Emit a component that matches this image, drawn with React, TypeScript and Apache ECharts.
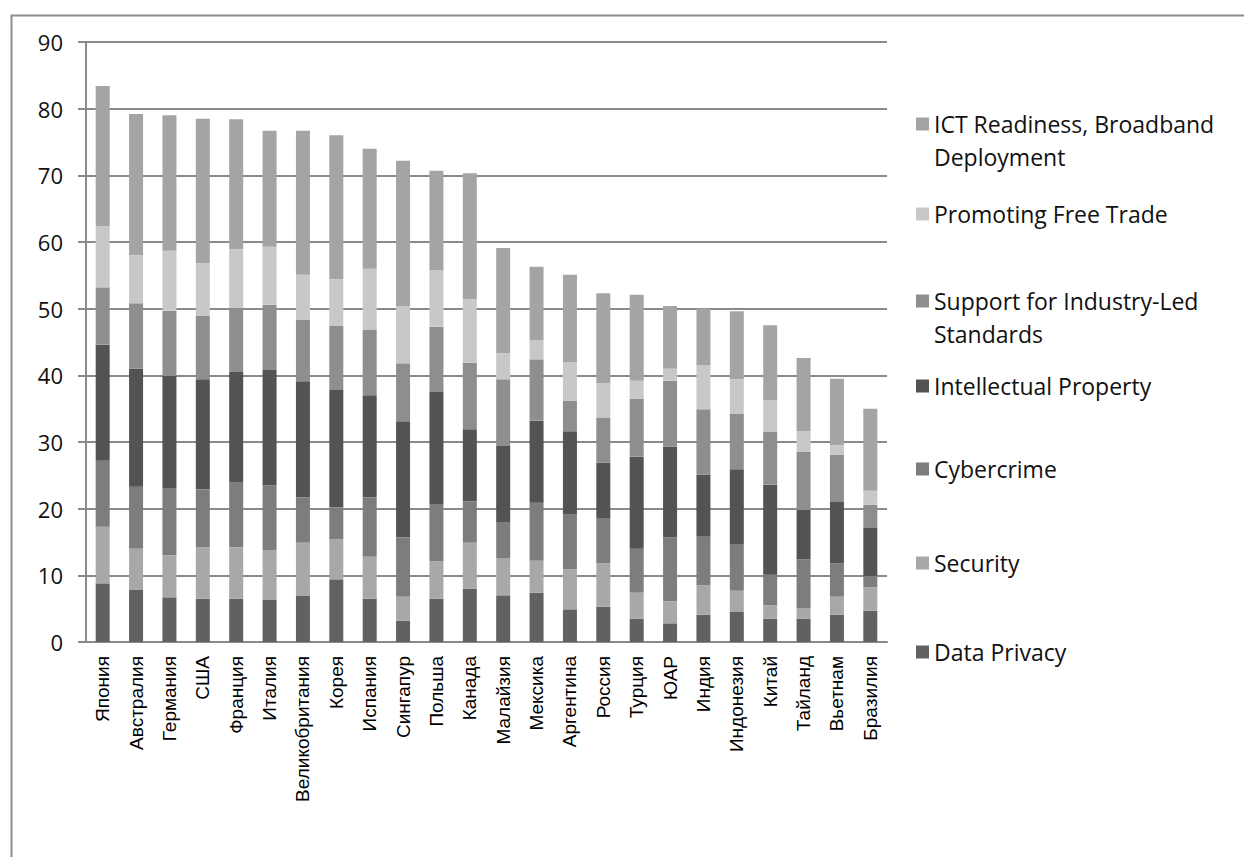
import React, { useEffect, useRef } from 'react';
import * as echarts from 'echarts';

const countries = [
  'Япония', 'Австралия', 'Германия', 'США', 'Франция', 'Италия', 'Великобритания',
  'Корея', 'Испания', 'Сингапур', 'Польша', 'Канада', 'Малайзия', 'Мексика',
  'Аргентина', 'Россия', 'Турция', 'ЮАР', 'Индия', 'Индонезия', 'Китай',
  'Тайланд', 'Вьетнам', 'Бразилия',
];

const dataPrivacy = [8.8, 7.8, 6.7, 6.5, 6.5, 6.3, 6.9, 9.4, 6.5, 3.2, 6.5, 8.0, 7.0, 7.4, 4.9, 5.3, 3.5, 2.8, 4.1, 4.5, 3.5, 3.5, 4.1, 4.7];
const security = [8.5, 6.2, 6.3, 7.7, 7.7, 7.5, 8.0, 6.0, 6.3, 3.6, 5.6, 6.9, 5.6, 4.8, 6.0, 6.5, 3.9, 3.3, 4.4, 3.2, 2.0, 1.6, 2.7, 3.5];
const cybercrime = [9.9, 9.3, 10.1, 8.7, 9.8, 9.7, 6.8, 4.8, 8.9, 8.9, 8.6, 6.2, 5.4, 8.7, 8.3, 6.8, 6.6, 9.6, 7.3, 7.0, 4.6, 7.3, 5.0, 1.7];
const intellectualProperty = [17.4, 17.7, 16.8, 16.5, 16.5, 17.3, 17.4, 17.6, 15.3, 17.4, 16.8, 10.8, 11.4, 12.3, 12.4, 8.3, 13.8, 13.6, 9.3, 11.2, 13.5, 7.4, 9.3, 7.2];
const industryStandards = [8.6, 9.8, 9.8, 9.5, 9.6, 9.8, 9.2, 9.6, 9.8, 8.7, 9.8, 10.0, 10.0, 9.2, 4.6, 6.7, 8.7, 9.9, 9.8, 8.3, 7.9, 8.7, 7.0, 3.5];
const freeTrade = [9.2, 7.2, 9.0, 7.9, 8.8, 8.7, 6.8, 7.0, 9.2, 8.6, 8.5, 9.5, 3.9, 2.9, 5.8, 5.2, 2.7, 1.8, 6.6, 5.2, 4.8, 3.1, 1.4, 2.1];
const ictReadiness = [21.0, 21.2, 20.3, 21.7, 19.5, 17.4, 21.6, 21.6, 18.0, 21.8, 14.9, 18.9, 15.8, 11.0, 13.1, 13.5, 12.9, 9.4, 8.5, 10.2, 11.2, 11.0, 10.0, 12.3];

const seriesNames = [
  'Data Privacy',
  'Security',
  'Cybercrime',
  'Intellectual Property',
  'Support for Industry-Led Standards',
  'Promoting Free Trade',
  'ICT Readiness, Broadband Deployment',
];
const seriesValues = [dataPrivacy, security, cybercrime, intellectualProperty, industryStandards, freeTrade, ictReadiness];
const seriesColors = ['#616161', '#a8a8a8', '#7d7d7d', '#535353', '#8e8e8e', '#c8c8c8', '#a4a4a4'];

// legend label line breaks as in the picture (first line kept level with the marker)
const legendLines: Record<string, [string, string]> = {
  'ICT Readiness, Broadband Deployment': ['ICT Readiness, Broadband', 'Deployment'],
  'Support for Industry-Led Standards': ['Support for Industry-Led', 'Standards'],
};
// legend first-line centre y positions
const legendCenters: Record<string, number> = {
  'ICT Readiness, Broadband Deployment': 124,
  'Promoting Free Trade': 214,
  'Support for Industry-Led Standards': 301,
  'Intellectual Property': 386,
  'Cybercrime': 469,
  'Security': 563,
  'Data Privacy': 652,
};

export default function App() {
  const ref = useRef<HTMLDivElement>(null);
  useEffect(() => {
    const chart = echarts.init(ref.current!, null, { renderer: 'svg' });
    const gridColor = '#8a8a8a';
    const legends = seriesNames.map((name) => {
      const lines = legendLines[name];
      const c = legendCenters[name];
      return {
        data: [name],
        orient: 'vertical',
        left: 916,
        top: lines ? c - 49.5 : c - 16.5,
        padding: 0,
        itemWidth: 13,
        itemHeight: 13,
        icon: 'rect',
        selectedMode: false,
        formatter: (n: string) => {
          const l = legendLines[n];
          return l ? '{e| }\n' + l[0] + '\n' + l[1] : n;
        },
        textStyle: {
          fontFamily: 'Open Sans',
          fontSize: 23,
          color: '#111',
          lineHeight: 33,
          rich: { e: { fontSize: 23, lineHeight: 33 } },
        },
      };
    });
    const option: any = {
      animation: false,
      backgroundColor: '#fff',
      grid: { left: 86, right: 357, top: 42, bottom: 215, containLabel: false },
      graphic: [
        {
          type: 'rect',
          left: 9,
          top: 13,
          shape: { width: 1400, height: 1000 },
          style: { fill: 'none', stroke: '#8c8c8c', lineWidth: 2 },
          silent: true,
        },
      ],
      legend: legends,
      xAxis: {
        type: 'category',
        data: countries,
        axisLine: { lineStyle: { color: gridColor, width: 2 } },
        axisTick: { length: 7, lineStyle: { color: gridColor, width: 2 } },
        axisLabel: {
          rotate: 90,
          interval: 0,
          margin: 14,
          fontFamily: 'Liberation Sans',
          fontSize: 19,
          color: '#000',
        },
      },
      yAxis: {
        type: 'value',
        min: 0,
        max: 90,
        interval: 10,
        axisLine: { show: true, lineStyle: { color: gridColor, width: 2 } },
        axisTick: { show: true, length: 8, lineStyle: { color: gridColor, width: 2 } },
        splitLine: { lineStyle: { color: gridColor, width: 2 } },
        axisLabel: { margin: 23, fontFamily: 'Open Sans', fontSize: 22, color: '#111' },
      },
      series: seriesNames.map((name, i) => ({
        name,
        type: 'bar',
        stack: 'total',
        barWidth: 14,
        data: seriesValues[i],
        itemStyle: { color: seriesColors[i] },
      })),
    };
    chart.setOption(option);
    return () => chart.dispose();
  }, []);
  return (
    <div
      ref={ref}
      style={{ position: 'absolute', left: 0, top: 0, width: 1244, height: 857, background: '#fff' }}
    />
  );
}
